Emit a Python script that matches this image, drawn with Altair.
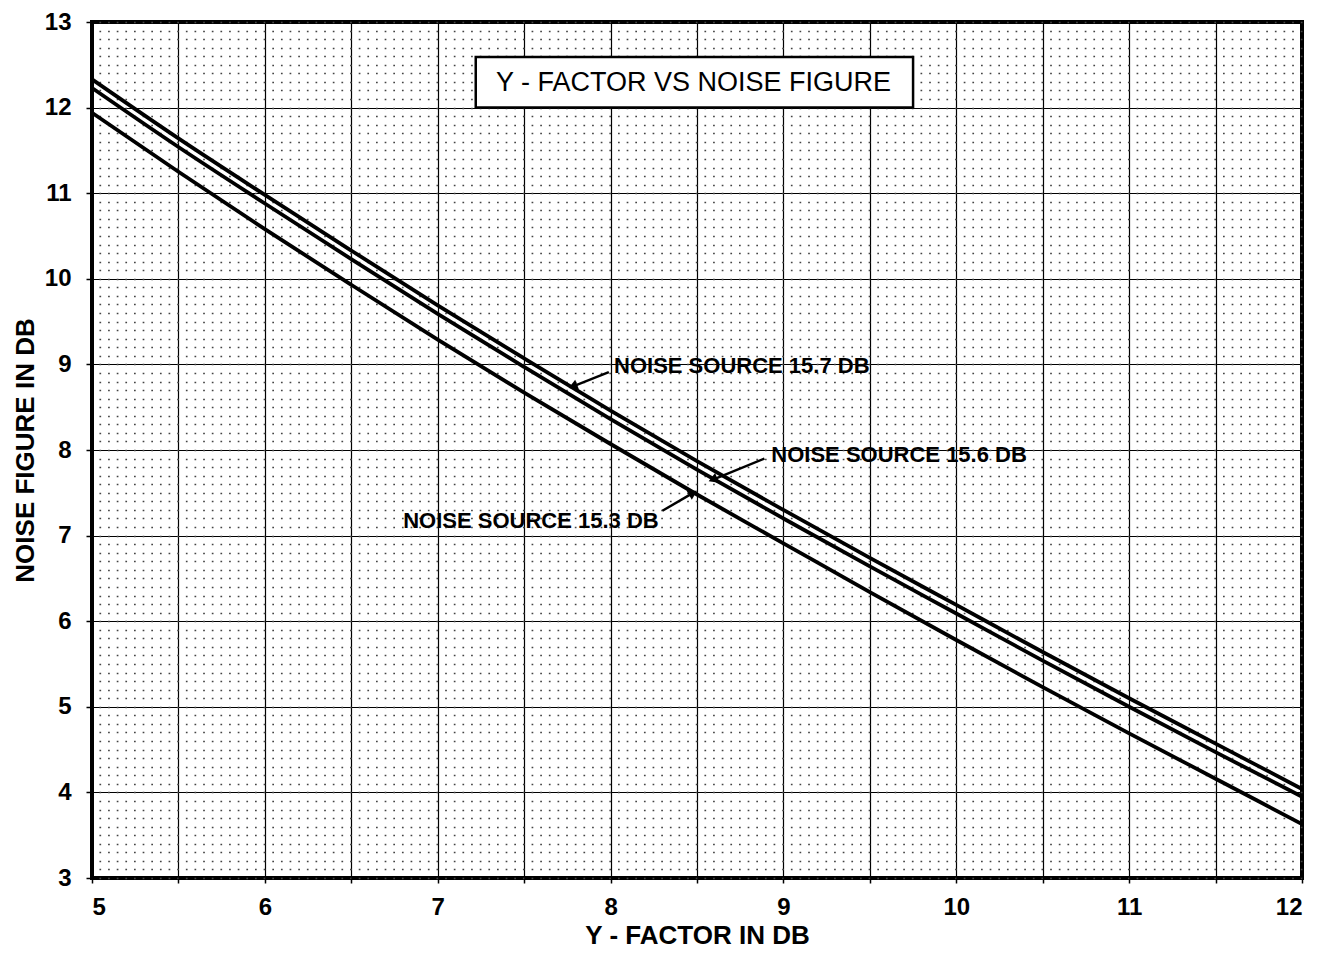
import altair as alt
import pandas as pd

# ---------------- data ----------------
y_factor_db = [5.0, 5.5, 6.0, 6.5, 7.0, 7.5, 8.0, 8.5, 9.0, 9.5, 10.0, 10.5, 11.0, 11.5, 12.0]
nf_157 = [12.33, 11.64, 10.98, 10.33, 9.69, 9.07, 8.46, 7.87, 7.30, 6.74, 6.19, 5.64, 5.10, 4.57, 4.04]
nf_156 = [12.23, 11.54, 10.88, 10.23, 9.59, 8.97, 8.36, 7.77, 7.20, 6.64, 6.09, 5.54, 5.00, 4.47, 3.95]
nf_153 = [11.94, 11.25, 10.58, 9.93, 9.29, 8.67, 8.07, 7.48, 6.91, 6.34, 5.78, 5.23, 4.69, 4.16, 3.63]
series_names = ["NOISE SOURCE 15.7 DB", "NOISE SOURCE 15.6 DB", "NOISE SOURCE 15.3 DB"]

x_ticks = [5.0, 5.5, 6.0, 6.5, 7.0, 7.5, 8.0, 8.5, 9.0, 9.5, 10.0, 10.5, 11.0, 11.5, 12.0]
y_ticks = [3, 4, 5, 6, 7, 8, 9, 10, 11, 12, 13]
y_minor = [round(3 + 0.1 * i, 1) for i in range(101)]

chart_title = "Y - FACTOR VS NOISE FIGURE"
x_title = "Y - FACTOR IN DB"
y_title = "NOISE FIGURE IN DB"

# title box (data coordinates)
box_x1, box_x2, box_y1, box_y2 = [7.22], [9.75], [12.59], [12.0]
box_text_x, box_text_y = [8.48], [12.29]

# annotation labels, arrows (data coordinates)
label_x = [8.02, 8.93, 6.80]
label_y = [8.98, 7.94, 7.17]
arrow_x1 = [7.99, 8.89, 8.30]
arrow_y1 = [8.91, 7.90, 7.29]
arrow_x2 = [7.79, 8.60, 8.47]
arrow_y2 = [8.75, 7.66, 7.49]
arrow_angle = [249, 248, 60]

# ---------------- tables ----------------
rows = []
for name, vals in zip(series_names, [nf_157, nf_156, nf_153]):
    for xv, yv in zip(y_factor_db, vals):
        rows.append({"series": name, "yf": xv, "nf": yv})
df = pd.DataFrame(rows)

ann = pd.DataFrame({
    "label": series_names, "lx": label_x, "ly": label_y,
    "ax1": arrow_x1, "ay1": arrow_y1, "ax2": arrow_x2, "ay2": arrow_y2,
    "ang": arrow_angle,
})
box = pd.DataFrame({"x1": box_x1, "x2": box_x2, "y1": box_y1, "y2": box_y2,
                    "tx": box_text_x, "ty": box_text_y, "t": [chart_title]})

FONT = "Liberation Sans"
W, H = 1210, 856
xs = alt.Scale(domain=[5, 12], nice=False, zero=False)
ys = alt.Scale(domain=[3, 13], nice=False, zero=False)

curves = alt.Chart(df).mark_line(color="black", strokeWidth=3.8, interpolate="monotone").encode(
    x=alt.X("yf:Q", scale=xs, axis=alt.Axis(
        orient="bottom", values=x_ticks, grid=True, gridColor="black", gridWidth=1.2,
        labelExpr="datum.value % 1 == 0 ? format(datum.value, 'd') : ''",
        tickSize=5, labelPadding=12, title=x_title, titlePadding=3, domain=False)),
    y=alt.Y("nf:Q", scale=ys, axis=alt.Axis(
        orient="left", values=y_ticks, format="d", grid=True, gridColor="black",
        gridWidth=1.2, tickSize=6, labelPadding=15, title=y_title,
        titlePadding=6, domain=False)),
    detail="series:N",
)

minor = alt.Chart(df).mark_line(opacity=0).encode(
    x=alt.X("yf:Q", scale=xs, axis=None),
    y=alt.Y("nf:Q", scale=ys, axis=alt.Axis(
        orient="right", values=y_minor, grid=True, gridDash=[1.7, W / 140 - 1.7],
        gridColor="#444444", gridWidth=1.5, labels=False, ticks=False,
        domain=False, title=None)),
    detail="series:N",
)

box_rect = alt.Chart(box).mark_rect(fill="white", stroke="black", strokeWidth=2.5).encode(
    x=alt.X("x1:Q", scale=xs, axis=None), x2="x2:Q",
    y=alt.Y("y1:Q", scale=ys, axis=None), y2="y2:Q",
)
box_txt = alt.Chart(box).mark_text(font=FONT, fontSize=27, fontWeight="normal",
                                   color="black", align="center", baseline="middle").encode(
    x=alt.X("tx:Q", scale=xs, axis=None), y=alt.Y("ty:Q", scale=ys, axis=None), text="t:N")

ann_rules = alt.Chart(ann).mark_rule(color="black", strokeWidth=2.4).encode(
    x=alt.X("ax1:Q", scale=xs, axis=None), y=alt.Y("ay1:Q", scale=ys, axis=None),
    x2="ax2:Q", y2="ay2:Q")
ann_heads = alt.Chart(ann).mark_point(shape="triangle", filled=True, size=110,
                                      color="black", opacity=1).encode(
    x=alt.X("ax2:Q", scale=xs, axis=None), y=alt.Y("ay2:Q", scale=ys, axis=None),
    angle=alt.Angle("ang:Q", scale=None))
ann_text = alt.Chart(ann).mark_text(font=FONT, fontSize=22, fontWeight="bold",
                                    color="black", align="left", baseline="middle").encode(
    x=alt.X("lx:Q", scale=xs, axis=None), y=alt.Y("ly:Q", scale=ys, axis=None), text="label:N")

chart = alt.layer(curves, minor, box_rect, box_txt, ann_rules, ann_heads, ann_text).resolve_axis(
    x="independent", y="independent"
).properties(
    width=W, height=H,
    autosize=alt.AutoSizeParams(type="none"),
    padding={"left": 84, "top": 14, "right": 20, "bottom": 70},
    background="white",
).configure_view(
    stroke="black", strokeWidth=4
).configure_axis(
    labelFont=FONT, titleFont=FONT, labelFontSize=24, titleFontSize=26,
    labelFontWeight="bold", titleFontWeight="bold", labelColor="black",
    titleColor="black", tickColor="black", tickWidth=1.5,
)

chart.save("out.html", embed_options={"renderer": "svg", "actions": False})
